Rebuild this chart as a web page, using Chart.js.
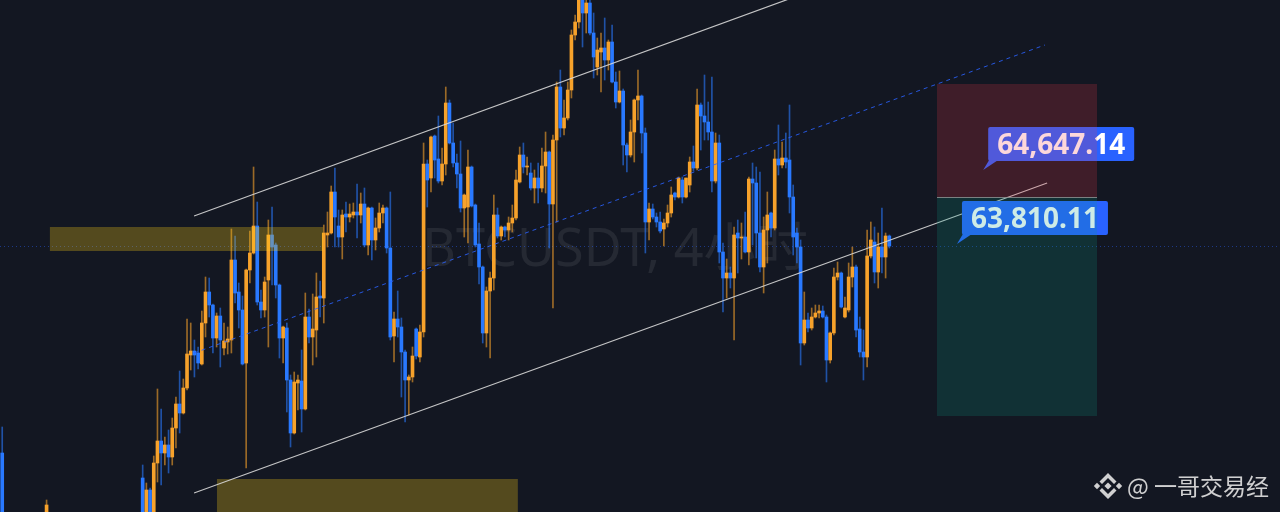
<!DOCTYPE html>
<html>
<head>
<meta charset="utf-8">
<script src="https://cdn.jsdelivr.net/npm/chart.js@4.4.1/dist/chart.umd.min.js"></script>
<style>
  html, body { margin: 0; padding: 0; background: #131722; overflow: hidden; }
  #wrap { width: 1280px; height: 512px; }
</style>
</head>
<body>
<div id="wrap"><canvas id="btcChart" width="1280" height="512"></canvas></div>
<script>
'use strict'

// BTCUSDT 4h candles (USDT)
// first two are the stray candles at the left edge, then the visible run
const open = [
  61740, 60970,
  61490, 61020, 61370, 61070, 61640, 61860, 61740, 61820, 61700, 61990,
  62230, 62140, 62390, 62720, 62760, 62740, 62630, 63040, 63350, 63220,
  62890, 63110, 62790, 62850, 62870, 63670, 63350, 63170, 62640, 63570,
  63740, 64010, 63250, 63170,
  63470, 63920, 63820, 63420, 62890, 62990, 62470, 61940, 62440, 62460,
  62180, 63100, 62900, 62970, 63310, 63290, 63920, 63940, 64350, 64010,
  63900, 64130, 64100, 64120, 64150, 64120, 64230, 63820, 64190, 63870,
  63990, 64140, 64190, 63790,
  62910, 63080, 63000, 62750, 62470, 62500, 62980, 62700, 62950, 64630,
  64490, 64910, 64680, 64460, 64630, 65240, 64840, 64640, 64530, 64190,
  64200, 64600, 64220, 63830, 63600, 62940, 63360, 63490, 64120, 63910,
  64000, 63970, 64040, 64090,
  64450, 64720, 64600, 64540, 64390, 64490, 64390, 64610, 64750, 64230,
  64870, 65400, 64990, 65090, 65370, 65920, 66050, 66300, 66140, 66240,
  65940, 65600, 65750, 65790, 65670, 65850, 65450, 65250, 65360, 64820,
  64720, 64950, 65270, 65310,
  64940, 64050, 64180, 64100, 64050, 63980, 64040, 64140, 64340, 64300,
  64470, 64300, 64420, 64650, 64590, 65220, 65110, 65050, 64950, 64460,
  64840, 63750, 63490, 63540, 63490, 63940, 63890, 63900, 63750, 64480,
  64440, 63940, 63600, 63970,
  64140, 63990, 64680, 64620, 64690, 64670, 64300, 63940, 63800, 62840,
  63070, 62990, 63100, 63140, 63160, 63100, 62670, 62940, 63500, 63540,
  63100, 63170, 63500, 63600, 62980, 62750, 62700, 63710, 63850, 63550,
  63800, 63700, 63910
];
const high = [
  62000, 61270,
  61620, 61440, 61390, 61710, 62380, 62180, 61900, 61970, 62090, 62300,
  62560, 62480, 63080, 63040, 62870, 62800, 63160, 63500, 63490, 63230,
  63140, 63190, 63040, 63000, 63980, 63910, 63440, 63310, 63580, 63960,
  64600, 64250, 63370, 63500,
  64070, 64200, 63840, 63430, 63010, 63040, 62520, 62550, 62520, 62770,
  63340, 63180, 63330, 63540, 63460, 64020, 64150, 64410, 64590, 64170,
  64170, 64250, 64230, 64240, 64430, 64340, 64390, 64200, 64200, 64090,
  64240, 64220, 64200, 64350,
  63150, 63360, 63090, 62770, 62520, 62800, 62990, 63020, 64840, 64670,
  64910, 64920, 65110, 64790, 65400, 65270, 65040, 64730, 64860, 64330,
  64770, 64610, 64230, 64040, 63610, 63400, 63550, 64320, 64190, 64010,
  64010, 64100, 64220, 64570,
  64800, 64840, 64700, 64640, 64570, 64640, 64790, 64950, 64760, 64920,
  65450, 65570, 65270, 65450, 65970, 66120, 66370, 66350, 66320, 66290,
  66140, 65890, 65940, 66090, 65870, 66020, 65550, 65560, 65380, 64840,
  65070, 65280, 65570, 65320,
  64990, 64240, 64230, 64140, 64150, 64080, 64220, 64400, 64350, 64500,
  64500, 64490, 64700, 64810, 65380, 65240, 65520, 65250, 65500, 64940,
  64920, 63840, 63680, 63600, 64000, 64070, 64040, 64150, 64500, 64640,
  64600, 64550, 64100, 64350,
  64150, 64770, 65020, 64850, 64940, 65220, 64420, 63990, 63870, 63350,
  63140, 63190, 63220, 63220, 63210, 63120, 62950, 63590, 63650, 63550,
  63300, 63640, 63800, 63620, 63100, 62970, 63970, 64050, 64000, 63940,
  64190, 63940, 63920
];
const low = [
  60870, 60870,
  60920, 60970, 60990, 61020, 61450, 61420, 61620, 61540, 61620, 61790,
  61940, 62130, 62370, 62570, 62500, 62580, 62620, 62900, 63100, 62740,
  62800, 62600, 62720, 62730, 62740, 63240, 62990, 62620, 61590, 63440,
  63730, 63220, 63090, 63100,
  62800, 63420, 63290, 62690, 62640, 62150, 61800, 61930, 62170, 61950,
  62170, 62840, 62620, 62700, 63100, 63040, 63800, 63930, 63800, 63800,
  63680, 63950, 64050, 64090, 63890, 64040, 63800, 63720, 63670, 63770,
  63950, 64040, 63740, 62870,
  62650, 62900, 62300, 62050, 62120, 62450, 62680, 62650, 62900, 64200,
  64350, 64490, 64440, 64420, 64520, 64830, 64600, 64390, 64150, 63900,
  63840, 64200, 63800, 63430, 62840, 62800, 62690, 63370, 63890, 63870,
  63900, 63870, 63950, 64070,
  64440, 64540, 64520, 64370, 64240, 64240, 64350, 64340, 63790, 63190,
  64050, 64900, 64920, 65070, 65290, 65870, 65990, 65800, 65940, 65920,
  65490, 65520, 65350, 65470, 65570, 65440, 65190, 65240, 64620, 64550,
  64700, 64650, 65070, 64740,
  63740, 63870, 64080, 64000, 63940, 63810, 64000, 64100, 64270, 64290,
  64240, 64290, 64350, 64560, 64570, 64770, 64870, 64870, 64350, 64440,
  63640, 63150, 63290, 63390, 62870, 63540, 63680, 63740, 63620, 63820,
  63690, 63550, 63340, 63640,
  63900, 63970, 64520, 64590, 64590, 64140, 63720, 63640, 62620, 62820,
  62950, 62970, 63090, 63090, 63090, 62450, 62640, 62920, 63470, 63190,
  63090, 63150, 63400, 62900, 62700, 62470, 62600, 63690, 63440, 63390,
  63540, 63490, 63790
];
const close = [
  60970, 61220,
  61020, 61370, 61070, 61640, 61860, 61740, 61820, 61700, 61990, 62230,
  62140, 62390, 62730, 62760, 62720, 62640, 63040, 63350, 63220, 62890,
  63110, 62870, 62860, 62880, 63670, 63340, 63170, 62630, 63570, 63740,
  64010, 63250, 63170, 63450,
  63920, 63800, 63420, 62890, 63000, 62470, 61940, 62450, 62470, 62180,
  63100, 62900, 62980, 63300, 63290, 63940, 63940, 64350, 64100, 63900,
  64120, 64100, 64130, 64150, 64120, 64230, 63820, 64190, 63870, 63990,
  64140, 64190, 63790, 62900,
  63080, 63000, 62750, 62470, 62500, 62710, 62710, 62950, 64630, 64470,
  64900, 64670, 64460, 64630, 65240, 64840, 64640, 64530, 64190, 64320,
  64600, 64210, 63820, 63600, 62940, 63360, 63490, 64120, 63910, 64000,
  63970, 64040, 64090, 64470,
  64720, 64600, 64610, 64390, 64490, 64390, 64610, 64750, 64230, 64870,
  65400, 64990, 65090, 65370, 65920, 66050, 66300, 66140, 66240, 65940,
  65700, 65770, 65790, 65670, 65850, 65450, 65250, 65360, 64820, 64720,
  64950, 65270, 65310, 64940,
  64050, 64180, 64100, 64050, 63960, 64040, 64140, 64320, 64300, 64490,
  64300, 64490, 64650, 64590, 65220, 65110, 65050, 64950, 64460, 64840,
  63750, 63490, 63540, 63490, 63920, 63890, 63900, 63750, 64480, 64440,
  63940, 63600, 63970, 64120,
  63990, 64680, 64620, 64690, 64650, 64300, 63900, 63800, 62840, 63070,
  62990, 63100, 63140, 63160, 63100, 62670, 62940, 63500, 63540, 63200,
  63190, 63500, 63600, 62970, 62750, 62700, 63710, 63870, 63550, 63800,
  63700, 63910, 63810
];

// bar slot of each candle on the time axis
const slot = [-38, -26].concat(close.slice(2).map((_, i) => i));

// drawings (x in bar slots, y in price)
const upperChannel = [[13.9, 64110], [177.8, 66320]];
const lowerChannel = [[13.9, 61340], [244.7, 64440]];
const midChannel = [[13.9, 62740], [244.1, 65820]];
const supplyZones = [[-25.1, 48.8, 64000, 63760], [20.1, 101.5, 61480, 60900]];
const stopZone = [214.9, 258.2, 65430, 64300];
const targetZone = [214.9, 258.2, 64300, 62110];
const lastPrice = 63810.11;
const priceTags = [['64,647.14', 227.4, 64570], ['63,810.11', 220.3, 63830]];
const watermark = 'BTCUSDT, 4小时';
const author = '@ 一哥交易经';

const UP = '#f7a22b';
const DOWN = '#2979ff';

const isUp = close.map((c, i) => c >= open[i]);

function line(ctx, x, y, pts) {
    ctx.beginPath();
    ctx.moveTo(x.getPixelForValue(pts[0][0]), y.getPixelForValue(pts[0][1]));
    ctx.lineTo(x.getPixelForValue(pts[1][0]), y.getPixelForValue(pts[1][1]));
    ctx.stroke();
}

function box(ctx, x, y, b) {
    const x0 = x.getPixelForValue(b[0]), x1 = x.getPixelForValue(b[1]);
    const y0 = y.getPixelForValue(b[2]), y1 = y.getPixelForValue(b[3]);
    ctx.fillRect(x0, y0, x1 - x0, y1 - y0);
}

function binanceLogo(ctx, cx, cy) {
    const diamond = (x, y, r) => {
        ctx.beginPath();
        ctx.moveTo(x, y - r); ctx.lineTo(x + r, y); ctx.lineTo(x, y + r); ctx.lineTo(x - r, y);
        ctx.closePath(); ctx.fill();
    };
    diamond(cx, cy, 3.6);
    diamond(cx - 11, cy, 3.2);
    diamond(cx + 11, cy, 3.2);
    [-1, 1].forEach(s => {
        ctx.beginPath();
        ctx.moveTo(cx - 8.5, cy + s * 4.5);
        ctx.lineTo(cx, cy + s * 13);
        ctx.lineTo(cx + 8.5, cy + s * 4.5);
        ctx.lineTo(cx + 6, cy + s * 2);
        ctx.lineTo(cx, cy + s * 8);
        ctx.lineTo(cx - 6, cy + s * 2);
        ctx.closePath();
        ctx.fill();
    });
}

const drawings = {
    id: 'drawings',
    beforeDraw(chart) {
        const {ctx, scales: {x, y}} = chart;
        ctx.save();
        ctx.fillStyle = '#131722';
        ctx.fillRect(0, 0, chart.width, chart.height);

        // watermark
        const fam = '"Noto Sans", "Noto Sans CJK SC", sans-serif';
        ctx.font = '52px ' + fam;
        const size = 52 * 386 / ctx.measureText(watermark).width;
        ctx.font = size.toFixed(1) + 'px ' + fam;
        ctx.fillStyle = 'rgba(255,255,255,0.08)';
        ctx.textAlign = 'center';
        ctx.textBaseline = 'alphabetic';
        ctx.fillText(watermark, 615, 266);

        // last price line
        const py = Math.round(y.getPixelForValue(lastPrice)) + 0.5;
        ctx.strokeStyle = 'rgba(41,98,255,0.45)';
        ctx.lineWidth = 1;
        ctx.setLineDash([1, 3]);
        ctx.beginPath(); ctx.moveTo(0, py); ctx.lineTo(chart.width, py); ctx.stroke();
        ctx.restore();
    },
    afterDatasetsDraw(chart) {
        const {ctx, scales: {x, y}} = chart;
        ctx.save();

        // zones
        ctx.fillStyle = 'rgba(255,210,20,0.28)';
        supplyZones.forEach(z => box(ctx, x, y, z));

        // channel
        ctx.strokeStyle = 'rgba(215,215,215,0.9)';
        ctx.lineWidth = 1.2;
        line(ctx, x, y, upperChannel);
        line(ctx, x, y, lowerChannel);
        ctx.strokeStyle = 'rgba(41,98,255,0.85)';
        ctx.lineWidth = 1;
        ctx.setLineDash([4, 4]);
        line(ctx, x, y, midChannel);
        ctx.setLineDash([]);

        // price tags
        ctx.font = 'bold 28px "Noto Sans", sans-serif';
        ctx.textBaseline = 'alphabetic';
        ctx.textAlign = 'center';
        priceTags.forEach(([txt, xi, p]) => {
            const ax = x.getPixelForValue(xi), ay = y.getPixelForValue(p);
            ctx.fillStyle = '#2962ff';
            ctx.beginPath();
            ctx.roundRect(ax + 5, ay - 43, 146, 34, 2);
            ctx.fill();
            ctx.beginPath();
            ctx.moveTo(ax + 6, ay - 10); ctx.lineTo(ax + 15, ay - 10); ctx.lineTo(ax, ay);
            ctx.closePath(); ctx.fill();
            ctx.fillStyle = '#ffffff';
            ctx.fillText(txt, ax + 78, ay - 16);
        });

        // position tool
        ctx.fillStyle = 'rgba(242,54,69,0.2)';
        box(ctx, x, y, stopZone);
        ctx.fillStyle = 'rgba(8,153,129,0.2)';
        box(ctx, x, y, targetZone);
        const ey = Math.round(y.getPixelForValue(stopZone[3])) + 0.5;
        ctx.strokeStyle = 'rgba(150,150,150,0.8)';
        ctx.beginPath();
        ctx.moveTo(x.getPixelForValue(stopZone[0]), ey);
        ctx.lineTo(x.getPixelForValue(stopZone[1]), ey);
        ctx.stroke();

        // author mark
        ctx.fillStyle = 'rgba(225,225,225,0.92)';
        binanceLogo(ctx, 1108, 486);
        ctx.font = '23px "Noto Sans CJK SC", "Noto Sans", sans-serif';
        ctx.textAlign = 'left';
        ctx.textBaseline = 'middle';
        ctx.fillText(author, 1127, 486);
        ctx.restore();
    }
};

new Chart(document.getElementById('btcChart'), {
    type: 'bar',
    data: {
        datasets: [{
            label: 'wick',
            data: slot.map((s, i) => ({x: s, y: [low[i], high[i]]})),
            backgroundColor: isUp.map(u => u ? 'rgba(247,162,43,0.6)' : 'rgba(41,121,255,0.6)'),
            barThickness: 1,
            grouped: false,
            order: 2
        }, {
            label: 'body',
            data: slot.map((s, i) => ({x: s, y: [open[i], close[i]]})),
            backgroundColor: isUp.map(u => u ? UP : DOWN),
            barThickness: 3,
            minBarLength: 1,
            grouped: false,
            order: 1
        }]
    },
    options: {
        responsive: false,
        animation: false,
        devicePixelRatio: 1,
        events: [],
        layout: { padding: 0 },
        plugins: { legend: { display: false }, tooltip: { enabled: false } },
        scales: {
            x: { type: 'linear', min: -38.6, max: 307.7, offset: false, display: false },
            y: { min: 61150, max: 66270, display: false }
        }
    },
    plugins: [drawings]
});
</script>
</body>
</html>
